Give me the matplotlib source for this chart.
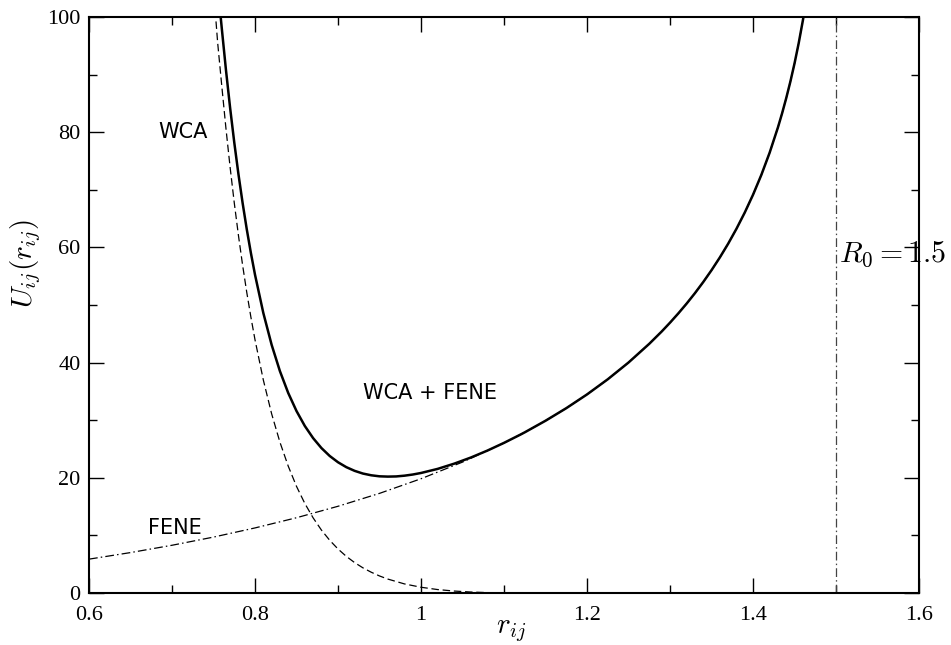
import matplotlib
matplotlib.use('Agg')
import matplotlib.pyplot as plt
from matplotlib.ticker import MultipleLocator

plt.rcParams['mathtext.fontset'] = 'cm'
plt.rcParams['font.family'] = ['Liberation Serif', 'DejaVu Serif']

# values
R0 = 1.5

# FENE alone, left part (below the solid curve it merges into)
r_fene_in = [0.60, 0.65, 0.70, 0.75, 0.80, 0.85, 0.90, 0.95, 1.00, 1.05, 1.10]
u_fene_in = [5.88, 7.02, 8.29, 9.71, 11.30, 13.07, 15.06, 17.30, 19.84, 22.73, 26.05]

# right branch, where WCA is zero and FENE == WCA + FENE
r_out = [1.125, 1.15, 1.175, 1.20, 1.225, 1.25, 1.275, 1.29, 1.30, 1.31, 1.32, 1.33,
         1.34, 1.35, 1.36, 1.37, 1.38, 1.39, 1.40, 1.41, 1.42, 1.43, 1.435, 1.44,
         1.445, 1.45, 1.455, 1.46, 1.462]
u_out = [27.90, 29.91, 32.09, 34.48, 37.11, 40.02, 43.27, 45.41, 46.94, 48.55, 50.25, 52.06,
         53.99, 56.05, 58.26, 60.64, 63.23, 66.05, 69.15, 72.59, 76.45, 80.84, 83.28, 85.93,
         88.80, 91.96, 95.46, 99.38, 101.09]

# WCA alone
r_wca = [0.74, 0.75, 0.755, 0.76, 0.765, 0.77, 0.775, 0.78, 0.785, 0.79, 0.795, 0.80,
         0.81, 0.82, 0.83, 0.84, 0.85, 0.86, 0.87, 0.88, 0.89, 0.90, 0.91, 0.92, 0.93,
         0.94, 0.95, 0.96, 0.98, 1.00, 1.02, 1.04, 1.06, 1.08, 1.10, 1.1225, 1.6]
u_wca = [124.98, 104.80, 95.52, 87.96, 80.62, 73.90, 67.74, 62.11, 56.96, 52.24, 47.92, 43.95,
         36.99, 31.12, 26.19, 22.03, 18.51, 15.55, 13.05, 10.93, 9.15, 7.64, 6.36, 5.28, 4.37,
         3.61, 2.96, 2.42, 1.58, 1.00, 0.60, 0.34, 0.17, 0.07, 0.02, 0.0, 0.0]

# WCA + FENE, left part
r_tot_in = [0.755, 0.76, 0.765, 0.77, 0.775, 0.78, 0.785, 0.79, 0.795, 0.80, 0.81, 0.82,
            0.83, 0.84, 0.85, 0.86, 0.87, 0.88, 0.89, 0.90, 0.91, 0.92, 0.93, 0.94,
            0.95, 0.96, 0.97, 0.98, 0.99, 1.00, 1.02, 1.04, 1.06, 1.08, 1.10, 1.12]
u_tot_in = [105.38, 97.97, 90.79, 84.22, 78.22, 72.75, 67.76, 63.20, 59.05, 55.25, 48.62, 43.10,
            38.52, 34.73, 31.59, 29.00, 26.89, 25.17, 23.79, 22.70, 21.85, 21.21, 20.74, 20.44,
            20.26, 20.21, 20.24, 20.37, 20.57, 20.84, 21.55, 22.46, 23.52, 24.73, 26.07, 27.52]

fig = plt.figure(figsize=(9.51, 6.45), dpi=100)
ax = fig.add_axes([0.0936, 0.0806, 0.8728, 0.893])

ax.plot(r_fene_in + r_out, u_fene_in + u_out, color='black', lw=0.9,
        dashes=(7, 2.5, 1.2, 2.5))
ax.plot(r_wca, u_wca, color='black', lw=0.9, dashes=(6, 3))
ax.axvline(R0, color='#444444', lw=0.9, dashes=(7, 2.5, 1.2, 2.5))
ax.plot(r_tot_in + r_out, u_tot_in + u_out, color='black', lw=1.8)

ax.set_xlim(0.6, 1.6)
ax.set_ylim(0, 100)
ax.xaxis.set_minor_locator(MultipleLocator(0.1))
ax.yaxis.set_major_locator(MultipleLocator(20))
ax.yaxis.set_minor_locator(MultipleLocator(10))
ax.set_xticks([0.6, 0.8, 1.0, 1.2, 1.4, 1.6])
ax.set_xticklabels(['0.6', '0.8', '1', '1.2', '1.4', '1.6'])

ax.tick_params(which='both', direction='in', top=True, right=True, width=1.0,
               labelsize=16)
ax.tick_params(which='major', length=11)
ax.tick_params(which='minor', length=6)
ax.tick_params(axis='x', which='major', pad=9)
ax.tick_params(axis='y', which='major', pad=6)
for s in ax.spines.values():
    s.set_linewidth(1.5)

ax.set_xlabel(r'$r_{ij}$', fontsize=21)
ax.xaxis.set_label_coords(0.508, -0.069)
ax.xaxis.label.set_va('baseline')
ax.set_ylabel(r'$U_{ij}(r_{ij})$', fontsize=21)
ax.yaxis.set_label_coords(-0.055, 0.573)

ax.text(0.713, 80, 'WCA', family='DejaVu Sans', fontsize=15, ha='center', va='center')
ax.text(0.704, 11.3, 'FENE', family='DejaVu Sans', fontsize=15, ha='center', va='center')
ax.text(1.011, 34.7, 'WCA + FENE', family='DejaVu Sans', fontsize=15, ha='center', va='center')
ax.text(1.503, 57.5, r'$R_0 = 1.5$', fontsize=21.5, ha='left', va='baseline', clip_on=False)

fig.savefig('out.png', dpi=100)
